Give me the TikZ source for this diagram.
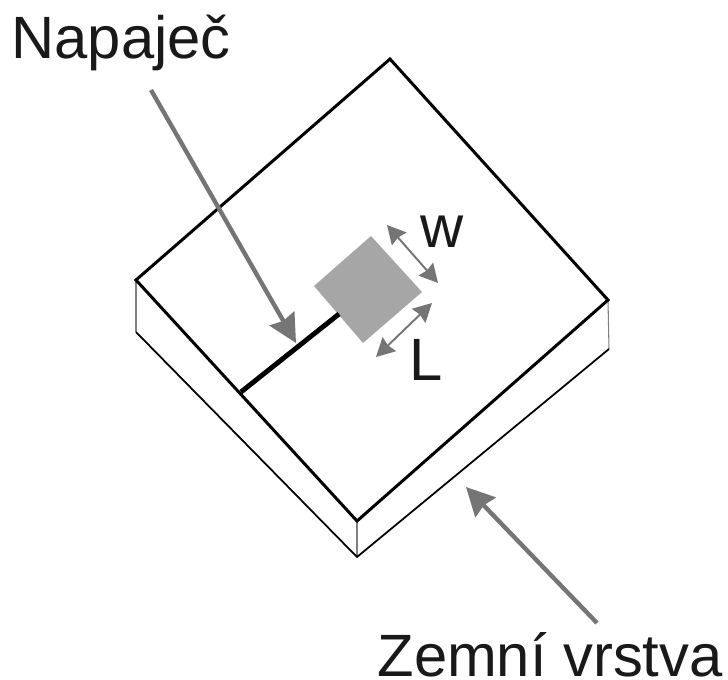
\documentclass[tikz,border=0pt]{standalone}
\usepackage{fontspec}
\setmainfont{Liberation Sans}
\usetikzlibrary{arrows.meta}
\definecolor{gr}{HTML}{A6A6A6}
\definecolor{ar}{HTML}{757575}
\begin{document}
\begin{tikzpicture}[
            x = 0.02cm, y = -0.02cm, % one unit is one pixel of the picture
            semithick
        ]

        \tikzstyle{top edge}=[draw = black, line width = 1.7pt, line join = miter]
        \tikzstyle{low edge}=[draw = black, line width = 1pt]
        \tikzstyle{side edge}=[draw = gray, line width = 0.6pt]
        \tikzstyle{big arrow}=[draw = ar, line width = 2.5pt, -{Stealth[inset = 1.5pt, length = 16pt, width = 16pt]}]
        \tikzstyle{small arrow}=[draw = ar, line width = 1.1pt, {Stealth[inset = 1pt, length = 10.5pt, width = 11pt]}-{Stealth[inset = 1pt, length = 10.5pt, width = 11pt]}]
        \tikzstyle{label}=[inner sep = 0pt, anchor = base west, text = black!90, font = \fontsize{34}{34}\selectfont]

        \useasboundingbox (0, 0) rectangle (728, 680);

        % top face
        \coordinate (tt) at (390, 59);
        \coordinate (tr) at (608, 300);
        \coordinate (tb) at (357, 521);
        \coordinate (tl) at (136, 280);
        % lower edge
        \coordinate (lr) at (609, 349);
        \coordinate (lb) at (357, 557);
        \coordinate (ll) at (136, 332);
        % patch
        \coordinate (pt) at (371, 236);
        \coordinate (pr) at (422, 292);
        \coordinate (pb) at (363, 343);
        \coordinate (pl) at (314, 286);
        % feed line
        \coordinate (fa) at (339, 314);
        \coordinate (fb) at (241, 392);
        % arrow ends
        \coordinate (na) at (151, 90);
        \coordinate (nb) at (296, 343);
        \coordinate (za) at (597, 623);
        \coordinate (zb) at (466, 487);
        \coordinate (wa) at (387, 225);
        \coordinate (wb) at (438, 283);
        \coordinate (la) at (376, 357);
        \coordinate (lc) at (432, 303);

        \draw[side edge] (tl) -- (ll);
        \draw[side edge] (tb) -- (lb);
        \draw[side edge] (tr) -- (lr);
        \draw[low edge] (ll) -- (lb) -- (lr);
        \draw[top edge] (tt) -- (tr) -- (tb) -- (tl) -- cycle;

        \fill[gr] (pt) -- (pr) -- (pb) -- (pl) -- cycle;
        \draw[draw = black, line width = 2.8pt] (fa) -- (fb);

        \draw[big arrow] (na) -- (nb);
        \draw[big arrow] (za) -- (zb);
        \draw[small arrow] (wa) -- (wb);
        \draw[small arrow] (la) -- (lc);

        \node[label] (napajec) at (11, 58) {Napaječ};
        \node[label] (zemni) at (377, 676) {Zemní vrstva};
        \node[label] (w) at (420, 247) {w};
        \node[label] (l) at (409, 380) {L};
    \end{tikzpicture}
\end{document}
